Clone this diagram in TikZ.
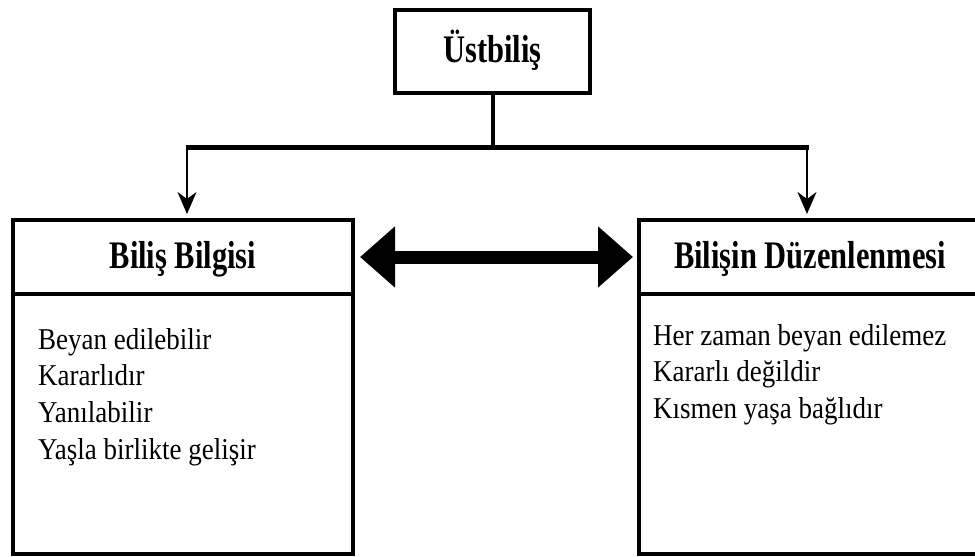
\documentclass[tikz,border=0pt]{standalone}
\usepackage{fontspec}
\usepackage{graphicx}
\setmainfont{Liberation Serif}
\usetikzlibrary{arrows.meta}
\newcommand{\tallhead}[1]{\scalebox{1}[1.28]{#1}}
\newcommand{\tallbody}[1]{\scalebox{1}[1.12]{#1}}
\begin{document}
\begin{tikzpicture}[x=1pt,y=-1pt,
  boxst/.style={draw, line width=4pt, rectangle, inner sep=0pt, fill=none},
  headst/.style={boxst, font=\fontsize{30.5}{36}\selectfont\bfseries, text height=26pt, text depth=4pt},
  bodytext/.style={inner sep=0pt, font=\fontsize{27}{33}\selectfont, anchor=base west},
  thinarrow/.style={line width=2pt, -{Stealth[length=22pt,width=19pt,inset=7pt]}, shorten >=4pt},
  bigarrow/.style={line width=13pt, {Triangle[length=35pt,width=59pt]}-{Triangle[length=35pt,width=59pt]}}
]
\useasboundingbox (0,0) rectangle (975,557);
% top box
\node[headst, minimum width=195pt, minimum height=83pt] (ust) at (492.5,51.5) {\tallhead{Üstbiliş}};
% left box
\node[headst, minimum width=340pt, minimum height=74pt] (lh) at (183,257) {\tallhead{Biliş Bilgisi}};
\node[boxst, minimum width=340pt, minimum height=260pt] (lb) at (183,424) {};
% right box
\node[headst, minimum width=342pt, minimum height=74pt] (rh) at (810,257) {\tallhead{Bilişin Düzenlenmesi}};
\node[boxst, minimum width=342pt, minimum height=260pt] (rb) at (810,424) {};
% body texts
\node[bodytext] (lt) at (38,349) {\tallbody{\begin{tabular}[t]{@{}l@{}}Beyan edilebilir\\Kararlıdır\\Yanılabilir\\Yaşla birlikte gelişir\end{tabular}}};
\node[bodytext] (rt) at (653,345) {\tallbody{\begin{tabular}[t]{@{}l@{}}Her zaman beyan edilemez\\Kararlı değildir\\Kısmen yaşa bağlıdır\end{tabular}}};
% connectors
\coordinate (jl) at (187,147);
\coordinate (jr) at (807,147);
\draw[line width=5pt] ([xshift=-1.5pt]jl) -- ([xshift=1.5pt]jr);
\draw[line width=4pt] (ust.south) -- (ust.south |- jl);
\draw[thinarrow] (jl) -- (jl |- lh.north);
\draw[thinarrow] (jr) -- (jr |- rh.north);
\draw[bigarrow] ([xshift=5pt]lh.east) -- ([xshift=-4pt]rh.west);
\end{tikzpicture}
\end{document}
